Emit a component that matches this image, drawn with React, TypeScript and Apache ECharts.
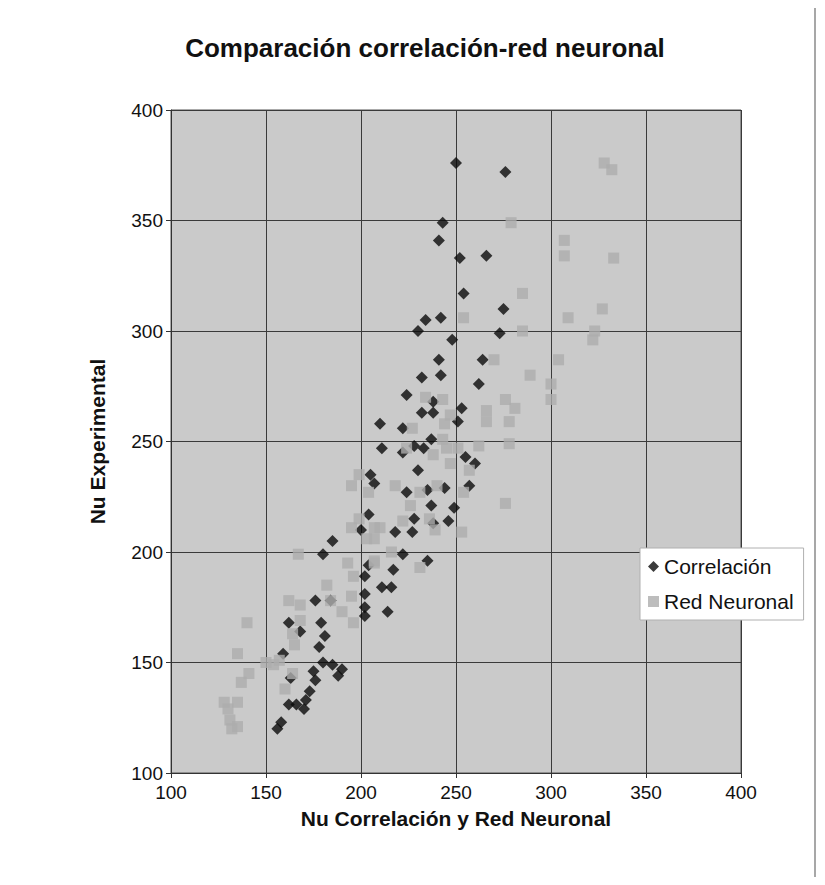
import React, { useEffect, useRef } from "react";
import * as echarts from "echarts";

const titleText = "Comparación correlación-red neuronal";
const xAxisName = "Nu Correlación y Red Neuronal";
const yAxisName = "Nu Experimental";
const seriesNames = ["Correlación", "Red Neuronal"];

const correlacion: [number, number][] = [
  [250, 376], [276, 372], [243, 349], [241, 341], [252, 333], [266, 334], [254, 317], [275, 310],
  [234, 305], [242, 306], [230, 300], [273, 299], [248, 296], [241, 287], [264, 287], [232, 279],
  [242, 280], [262, 276], [224, 271], [238, 268], [253, 265], [232, 263], [238, 263], [251, 259],
  [210, 258], [222, 256], [237, 251], [211, 247], [228, 248], [222, 245], [233, 247], [255, 243],
  [260, 240], [230, 237], [205, 235], [207, 231], [224, 227], [235, 228], [244, 229], [257, 230],
  [237, 221], [249, 220], [228, 215], [238, 213], [246, 214], [227, 209], [218, 209], [222, 199],
  [235, 196], [217, 192], [211, 184], [216, 184], [214, 173], [204, 217], [200, 210], [185, 205],
  [180, 199], [202, 189], [204, 194], [202, 181], [202, 175], [202, 171], [184, 178], [176, 178],
  [162, 168], [168, 164], [179, 168], [181, 162], [178, 157], [159, 154], [180, 150], [185, 149],
  [190, 147], [188, 144], [175, 146], [176, 142], [163, 143], [173, 137], [162, 131], [166, 131],
  [170, 129], [171, 133], [158, 123], [156, 120],
];

const redNeuronal: [number, number][] = [
  [328, 376], [332, 373], [333, 333], [327, 310], [323, 300], [322, 296], [279, 349], [307, 341],
  [307, 334], [285, 317], [309, 306], [254, 306], [285, 300], [270, 287], [304, 287], [289, 280],
  [300, 276], [300, 269], [276, 269], [266, 264], [281, 265], [266, 259], [278, 259], [278, 249],
  [262, 248], [257, 237], [254, 227], [276, 222], [253, 209], [234, 270], [243, 269], [247, 262],
  [244, 258], [227, 256], [243, 251], [224, 247], [238, 244], [245, 247], [251, 247], [247, 240],
  [218, 230], [240, 230], [231, 227], [226, 221], [222, 214], [236, 215], [239, 210], [210, 211],
  [207, 206], [216, 200], [231, 193], [207, 196], [199, 235], [195, 230], [204, 227], [199, 215],
  [195, 211], [207, 211], [203, 206], [167, 199], [193, 195], [207, 195], [196, 189], [182, 185],
  [162, 178], [168, 176], [184, 178], [190, 173], [195, 180], [196, 168], [168, 169], [164, 163],
  [165, 158], [140, 168], [135, 154], [154, 149], [150, 150], [157, 151], [164, 145], [141, 145],
  [137, 141], [160, 138], [128, 132], [135, 132], [130, 129], [131, 124], [135, 121], [132, 120],
];

const xMin = 100, xMax = 400, xStep = 50;
const yMin = 100, yMax = 400, yStep = 50;

export default function App() {
  const ref = useRef<HTMLDivElement>(null);
  useEffect(() => {
    if (!ref.current) return;
    const chart = echarts.init(ref.current, undefined, { renderer: "svg" });
    const font = "'Liberation Sans', Arial, sans-serif";
    chart.setOption({
      animation: false,
      backgroundColor: "#ffffff",
      textStyle: { fontFamily: font },
      title: {
        text: titleText,
        left: 420,
        textAlign: "center",
        top: 30,
        textStyle: { fontFamily: font, fontSize: 26, fontWeight: "bold", color: "#111" },
      },
      grid: {
        left: 171, top: 110, right: 84, bottom: 112,
        show: true, backgroundColor: "#cacaca", borderColor: "#555", borderWidth: 1,
      },
      xAxis: {
        type: "value", min: xMin, max: xMax, interval: xStep,
        name: xAxisName, nameLocation: "middle", nameGap: 35,
        nameTextStyle: { fontFamily: font, fontSize: 21, fontWeight: "bold", color: "#111" },
        axisLine: { lineStyle: { color: "#333" } },
        axisTick: { show: true, length: 5, lineStyle: { color: "#333" } },
        axisLabel: { fontFamily: font, fontSize: 19, color: "#111", margin: 10 },
        splitLine: { show: true, lineStyle: { color: "#3a3a3a", width: 1 } },
      },
      yAxis: {
        type: "value", min: yMin, max: yMax, interval: yStep,
        name: yAxisName, nameLocation: "middle", nameGap: 63,
        nameTextStyle: { fontFamily: font, fontSize: 21, fontWeight: "bold", color: "#111" },
        axisLine: { show: true, lineStyle: { color: "#333" } },
        axisTick: { show: true, length: 5, lineStyle: { color: "#333" } },
        axisLabel: { fontFamily: font, fontSize: 19, color: "#111", margin: 8 },
        splitLine: { show: true, lineStyle: { color: "#3a3a3a", width: 1 } },
      },
      legend: {
        orient: "vertical",
        left: 640, top: 548,
        backgroundColor: "#ffffff",
        borderColor: "#b0b0b0", borderWidth: 1,
        padding: [8, 10, 8, 8],
        itemGap: 14, itemWidth: 11, itemHeight: 11,
        textStyle: { fontFamily: font, fontSize: 21, color: "#111" },
        data: [
          { name: seriesNames[0], icon: "diamond" },
          { name: seriesNames[1], icon: "rect" },
        ],
      },
      graphic: [
        {
          type: "rect", silent: true, z: 10,
          shape: { x: 5, y: 4, width: 810, height: 875 },
          style: { fill: "none", stroke: "#8a8a8a", lineWidth: 1.5 },
        },
      ],
      series: [
        {
          name: seriesNames[0], type: "scatter", symbol: "diamond", symbolSize: 12,
          itemStyle: { color: "#0a0a0a" }, data: correlacion, z: 2,
        },
        {
          name: seriesNames[1], type: "scatter", symbol: "rect", symbolSize: 11,
          itemStyle: { color: "#adadad", opacity: 0.8 }, data: redNeuronal, z: 3,
        },
      ],
    });
    return () => chart.dispose();
  }, []);
  return <div ref={ref} style={{ width: 825, height: 885, margin: -8 }} />;
}
